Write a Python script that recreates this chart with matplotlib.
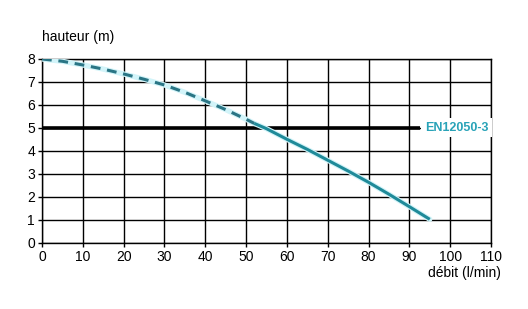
import matplotlib.pyplot as plt

# courbe débit / hauteur
debit = [0, 5, 10, 15, 20, 25, 30, 35, 40, 45, 50, 52, 55, 60, 65, 70, 75, 80, 85, 90, 95]
hauteur = [8.0, 7.9, 7.74, 7.56, 7.35, 7.12, 6.87, 6.55, 6.18, 5.8, 5.38, 5.2,
           4.97, 4.51, 4.07, 3.6, 3.13, 2.64, 2.12, 1.58, 1.03]
split = 11  # pointillés jusqu'à 52 l/min, trait plein ensuite

norme_h = 5
norme_fin = 92.6
norme_label = 'EN12050-3'

xticks = list(range(0, 111, 10))
yticks = list(range(0, 9))

plt.rcParams['font.family'] = ['Liberation Sans Narrow', 'Liberation Sans', 'DejaVu Sans']

fig = plt.figure(figsize=(5.28, 3.09), dpi=100)
ax = fig.add_axes([0.0795, 0.2136, 0.8504, 0.5955])

ax.set_xlim(0, 110)
ax.set_ylim(0, 8)
ax.set_xticks(xticks)
ax.set_yticks(yticks)
ax.grid(True, color='black', linewidth=1.0)
ax.set_axisbelow(True)
for s in ax.spines.values():
    s.set_linewidth(1.0)
ax.tick_params(labelsize=10, length=3, width=1.0, pad=2)

# norme
ax.plot([0, norme_fin], [norme_h, norme_h], color='black', linewidth=2.6, solid_capstyle='butt')
ax.text(norme_fin + 1.2, norme_h, norme_label, color='#29a3b8', fontsize=9,
        fontweight='bold', va='center', ha='left', zorder=5,
        bbox=dict(facecolor='white', edgecolor='none', pad=2.5))

# halo clair + courbe
ax.plot(debit, hauteur, color='#d2f4f9', linewidth=3.8, solid_capstyle='round', zorder=3)
ax.plot(debit[:split + 1], hauteur[:split + 1], color='#2a7585', linewidth=2.2,
        linestyle=(0, (3.2, 2.2)), zorder=4)
ax.plot(debit[split:], hauteur[split:], color='#1f8a99', linewidth=2.2,
        solid_capstyle='butt', zorder=4)

fig.text(0.0795, 0.88, 'hauteur (m)', fontsize=10, ha='left', va='center')
fig.text(0.948, 0.115, 'débit (l/min)', fontsize=10, ha='right', va='center')

fig.savefig('out.png', dpi=100)
